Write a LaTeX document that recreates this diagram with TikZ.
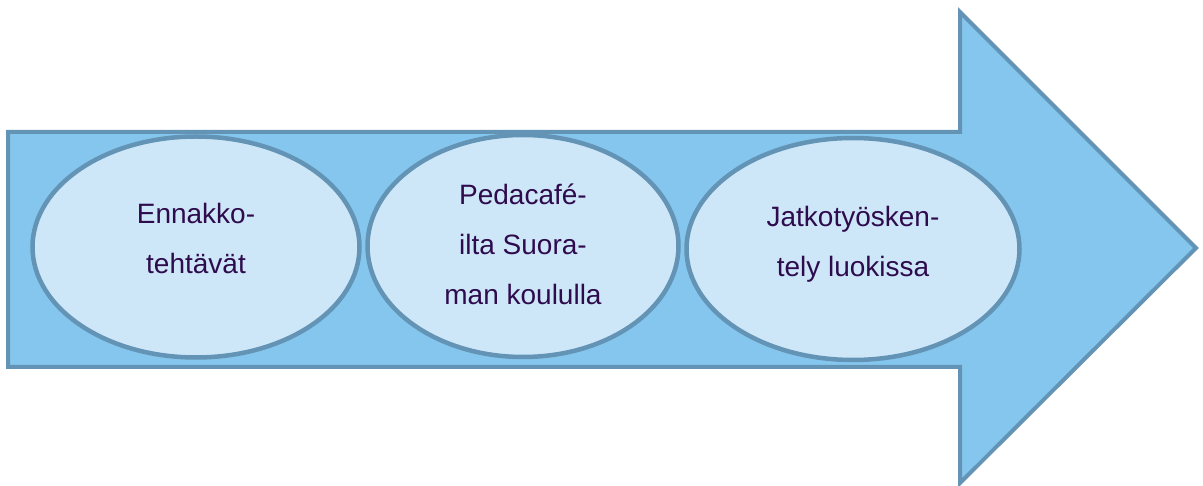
\documentclass[tikz,border=0pt]{standalone}
\usepackage{fontspec}
\setmainfont{Liberation Sans}
\usepackage{tikz}
\usetikzlibrary{shapes.geometric}
\definecolor{arrowfill}{HTML}{85C6EE}
\definecolor{edgeblue}{HTML}{6394B5}
\definecolor{ovalfill}{HTML}{CDE7F8}
\definecolor{textpurple}{HTML}{2E0B4D}
\tikzset{
    phase/.style = {ellipse, draw = edgeblue, line width = 4.5pt, fill = ovalfill, inner sep = 0pt},
    phasetext/.style = {align = center, text = textpurple, inner sep = 0pt,
        font = \fontsize{28}{50}\selectfont},
    bigarrow/.style = {draw = edgeblue, line width = 4pt, fill = arrowfill}
}
\begin{document}
\begin{tikzpicture}[x = 1pt, y = -1pt]
    \useasboundingbox (0,0) rectangle (1203,486);
    \draw[bigarrow] (8,132) -- (960,132) -- (960,12) -- (1196,248) -- (960,483) -- (960,367) -- (8,367) -- cycle;
    \node[phase, minimum width = 327pt, minimum height = 221pt] (ennakko) at (196,247) {};
    \node[phase, minimum width = 311pt, minimum height = 222pt] (pedacafe) at (523,246) {};
    \node[phase, minimum width = 333pt, minimum height = 222pt] (jatko) at (853,249) {};
    \node[phasetext] (ennakkotext) at (196,238) {Ennakko-\\tehtävät};
    \node[phasetext] (pedacafetext) at (523,244) {Pedacafé-\\ilta Suora-\\man koululla};
    \node[phasetext] (jatkotext) at (853,244) {Jatkotyösken-\\tely luokissa};
\end{tikzpicture}
\end{document}
